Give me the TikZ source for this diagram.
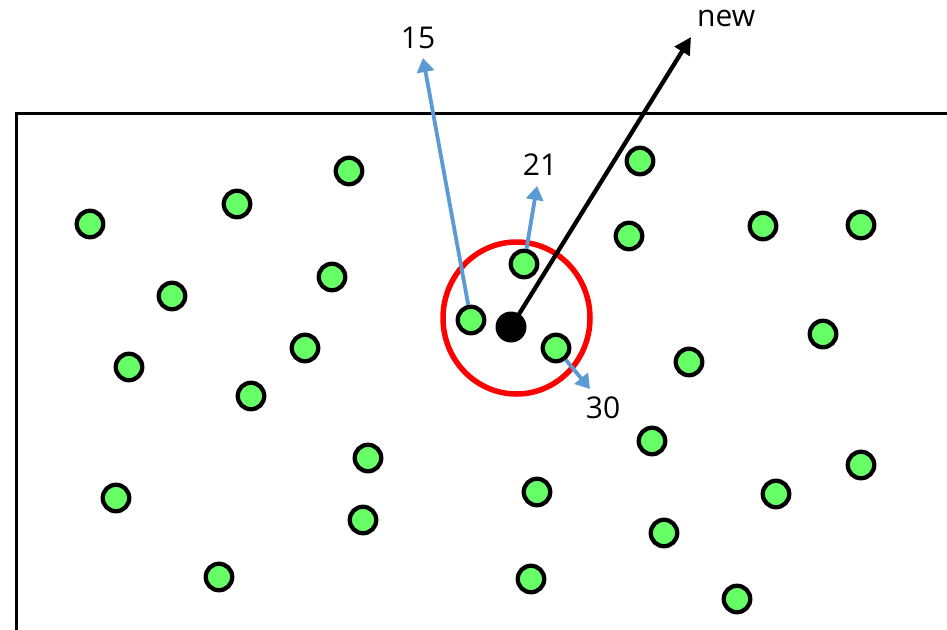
\documentclass[tikz,border=0pt]{standalone}
\usepackage{fontspec}
\setmainfont{Open Sans}
\usetikzlibrary{arrows.meta,shapes.geometric}
\definecolor{ptgreen}{HTML}{66FF66}
\definecolor{ptblue}{HTML}{5B9BD5}
\begin{document}
\begin{tikzpicture}[x=1pt,y=-1pt,
  pt/.style={circle,draw=black,line width=4.3pt,fill=ptgreen,minimum size=26.5pt,inner sep=0pt},
  newpt/.style={circle,fill=black,minimum size=31pt,inner sep=0pt},
  blue arrow/.style={draw=ptblue,line width=3.8pt,-{Triangle[length=14pt,width=17pt]}},
  black arrow/.style={draw=black,line width=4.3pt,-{Triangle[length=17pt,width=17pt]}},
  lbl/.style={font=\fontsize{30}{36}\selectfont,inner sep=0pt}]
\useasboundingbox (0,0) rectangle (947,629);
\fill[white] (0,0) rectangle (947,629);
% frame
\draw[line width=3pt] (16.5,640) -- (16.5,113) -- (960,113);
% points
\foreach \i/\x/\y in {1/90/224,2/237/204,3/349/171,4/172/296,5/332/277,6/129/367,7/305/348,8/251/396,9/368/458,10/116/498,11/363/520,12/219/577,13/640/161,14/629/236,15/763/226,16/861/225,17/823/334,18/689/362,19/652/441,20/537/492,21/776/494,22/861/465,23/664/533,24/531/579,25/737/599}
  \node[pt] (p\i) at (\x,\y) {};
\node[pt] (n15) at (471,320) {};
\node[pt] (n21) at (524,264) {};
\node[pt] (n30) at (556,348) {};
\node[newpt] (new) at (511,327) {};
% neighbourhood circle
\node[draw=red,line width=5.5pt,ellipse,minimum width=147pt,minimum height=152pt,inner sep=0pt] (hood) at (516.5,318) {};
% arrows
\coordinate (t15) at (423,58);
\coordinate (t21) at (537,186);
\coordinate (t30) at (590,389);
\coordinate (tnew) at (691,37);
\draw[blue arrow] (n15) -- (t15);
\draw[blue arrow] (n21) -- (t21);
\draw[blue arrow] (n30) -- (t30);
\draw[black arrow] (new.center) -- (tnew);
% labels
\node[lbl] (l15) at (418,38) {15};
\node[lbl] (l21) at (540,165) {21};
\node[lbl] (l30) at (603,408) {30};
\node[lbl,anchor=west] (lnew) at (697,18) {new};
\end{tikzpicture}
\end{document}
